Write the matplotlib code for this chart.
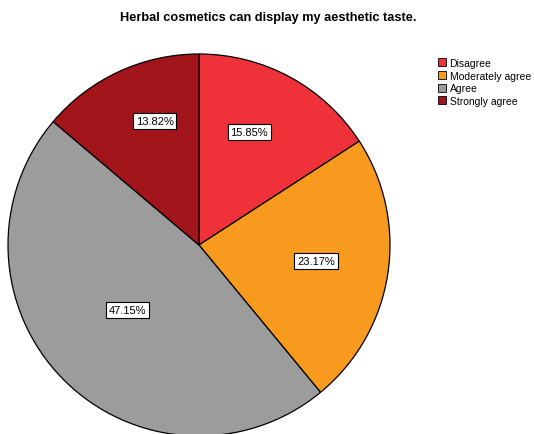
import matplotlib
matplotlib.use("Agg")
import matplotlib.pyplot as plt
from matplotlib.patches import Patch
import numpy as np

categories = ["Disagree", "Moderately agree", "Agree", "Strongly agree"]
percents = [15.85, 23.17, 47.15, 13.82]
colors = ["#EF323A", "#F79A1E", "#9C9C9C", "#A1151B"]

# label placement: radius fraction and angular nudge (degrees, clockwise)
label_radius = [0.648, 0.619, 0.505, 0.689]
label_nudge = [-4.6, -1.0, 2.4, 5.2]

plt.rcParams["font.family"] = ["Liberation Sans", "DejaVu Sans"]

fig = plt.figure(figsize=(5.34, 4.35), dpi=100)
ax = fig.add_axes([8 / 534, (435 - 437) / 435, 382 / 534, 382 / 435])
wedges, _ = ax.pie(percents, colors=colors, startangle=90, counterclock=False,
                   wedgeprops=dict(edgecolor="black", linewidth=0.9))
ax.set_xlim(-1, 1)
ax.set_ylim(-1, 1)
ax.set_aspect("equal")
ax.axis("off")

for w, p, r, n in zip(wedges, percents, label_radius, label_nudge):
    ang = np.deg2rad((w.theta1 + w.theta2) / 2 - n)
    ax.text(r * np.cos(ang), r * np.sin(ang), f"{p:.2f}%", ha="center", va="center",
            fontsize=8,
            bbox=dict(boxstyle="square,pad=0.25", facecolor="white", edgecolor="black", linewidth=0.8))

fig.text(268 / 534, 1 - 18 / 435, "Herbal cosmetics can display my aesthetic taste.",
         ha="center", va="center", fontsize=9.2, fontweight="bold")

handles = [Patch(facecolor=c, edgecolor="black", linewidth=0.6) for c in colors]
fig.legend(handles, categories, loc="upper left", bbox_to_anchor=(436 / 534, 1 - 57 / 435),
           frameon=False, fontsize=7.5, handlelength=0.8, handleheight=0.8,
           handletextpad=0.3, labelspacing=0.25, borderaxespad=0, borderpad=0.2)

fig.savefig("out.png", dpi=100)
